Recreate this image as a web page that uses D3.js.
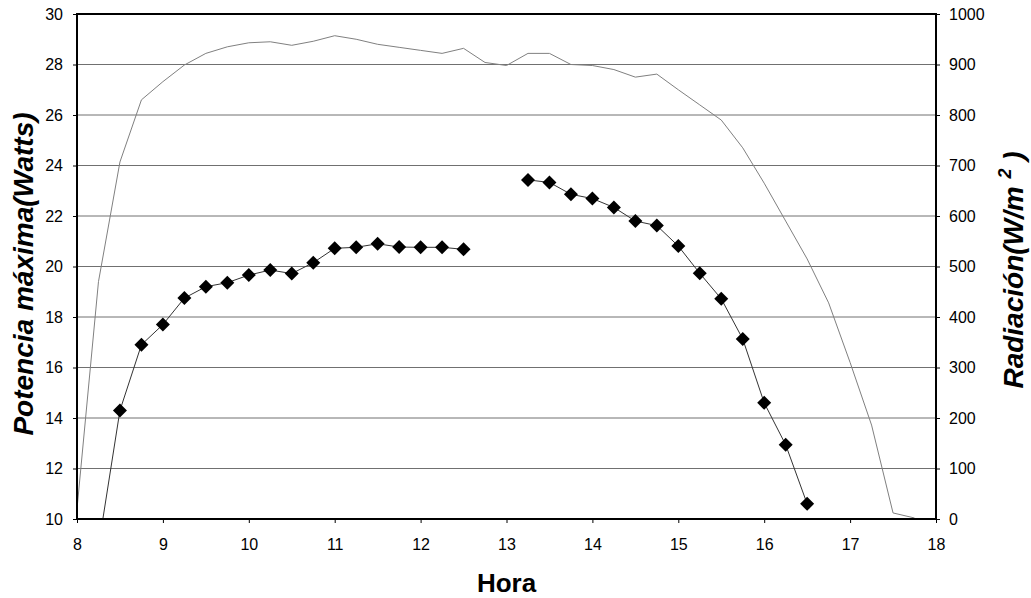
<!DOCTYPE html>
<html>
<head>
<meta charset="utf-8">
<script src="https://cdn.jsdelivr.net/npm/d3@7"></script>
<style>
  body { margin: 0; background: #fff; }
  text { font-family: "Liberation Sans", Arial, sans-serif; }
</style>
</head>
<body>
<div class="sandbox"></div>
<script>
// hours of the day (15 min steps)
var radHours = [8, 8.25, 8.5, 8.75, 9, 9.25, 9.5, 9.75, 10, 10.25, 10.5, 10.75, 11, 11.25, 11.5, 11.75,
  12, 12.25, 12.5, 12.75, 13, 13.25, 13.5, 13.75, 14, 14.25, 14.5, 14.75, 15, 15.25, 15.5, 15.75,
  16, 16.25, 16.5, 16.75, 17, 17.25, 17.5, 17.75];
// radiation W/m2 (right axis)
var radValues = [20, 470, 707, 830, 866, 899, 922, 935, 943, 945, 938, 946, 957, 950, 940, 934,
  928, 922, 932, 904, 898, 922, 922, 900, 898, 890, 875, 881, 850, 820, 790, 735,
  665, 590, 515, 428, 310, 186, 12, 2];

// max power, morning block and afternoon block (left axis)
var powHoursAM = [8.25, 8.5, 8.75, 9, 9.25, 9.5, 9.75, 10, 10.25, 10.5, 10.75, 11, 11.25, 11.5, 11.75, 12, 12.25, 12.5];
var powValuesAM = [8.9, 14.3, 16.9, 17.7, 18.75, 19.2, 19.36, 19.66, 19.86, 19.72, 20.15, 20.72, 20.76, 20.9, 20.77, 20.76, 20.76, 20.68];
var powHoursPM = [13.25, 13.5, 13.75, 14, 14.25, 14.5, 14.75, 15, 15.25, 15.5, 15.75, 16, 16.25, 16.5];
var powValuesPM = [23.43, 23.33, 22.86, 22.69, 22.34, 21.8, 21.62, 20.81, 19.73, 18.72, 17.13, 14.6, 12.94, 10.6];

var xTicks = [8, 9, 10, 11, 12, 13, 14, 15, 16, 17, 18];
var yLeftTicks = [10, 12, 14, 16, 18, 20, 22, 24, 26, 28, 30];
var yRightTicks = [0, 100, 200, 300, 400, 500, 600, 700, 800, 900, 1000];

var W = 1031, H = 598;
var m = {left: 77, right: W - 936, top: 14, bottom: H - 519};
var iw = W - m.left - m.right, ih = H - m.top - m.bottom;

var svg = d3.select(".sandbox").append("svg").attr("width", W).attr("height", H);

var x = d3.scaleLinear().domain([8, 18]).range([0, iw]);
var yL = d3.scaleLinear().domain([10, 30]).range([ih, 0]);
var yR = d3.scaleLinear().domain([0, 1000]).range([ih, 0]);

svg.append("defs").append("clipPath").attr("id", "clip")
  .append("rect").attr("width", iw).attr("height", ih);

var g = svg.append("g").attr("transform", "translate(" + m.left + "," + m.top + ")");

// gridlines
g.selectAll("line.grid")
  .data(yLeftTicks.slice(1, -1))
  .enter()
  .append("line")
  .attr("class", "grid")
  .attr("x1", 0).attr("x2", iw)
  .attr("y1", d => yL(d)).attr("y2", d => yL(d))
  .attr("stroke", "#707070")
  .attr("stroke-width", 1);

var plot = g.append("g").attr("clip-path", "url(#clip)");

// radiation line
var radLine = d3.line().x((d, i) => x(radHours[i])).y(d => yR(d));
plot.append("path")
  .datum(radValues)
  .attr("d", radLine)
  .attr("fill", "none")
  .attr("stroke", "#808080")
  .attr("stroke-width", 1);

// power lines + diamonds
var diamond = "M0,-7L7,0L0,7L-7,0Z";
[[powHoursAM, powValuesAM], [powHoursPM, powValuesPM]].forEach(function(s) {
  var hrs = s[0], vals = s[1];
  plot.append("path")
    .datum(vals)
    .attr("d", d3.line().x((d, i) => x(hrs[i])).y(d => yL(d)))
    .attr("fill", "none")
    .attr("stroke", "#333")
    .attr("stroke-width", 1);
  plot.selectAll(null)
    .data(vals)
    .enter()
    .append("path")
    .attr("d", diamond)
    .attr("transform", (d, i) => "translate(" + [x(hrs[i]), yL(d)] + ")")
    .attr("fill", "#000");
});

// axes
var fs = "16px";
var ax = g.append("g").attr("transform", "translate(0," + ih + ")")
  .call(d3.axisBottom(x).tickValues(xTicks).tickSize(4).tickPadding(16));
var al = g.append("g")
  .call(d3.axisLeft(yL).tickValues(yLeftTicks).tickSize(4).tickPadding(10));
var ar = g.append("g").attr("transform", "translate(" + iw + ",0)")
  .call(d3.axisRight(yR).tickValues(yRightTicks).tickFormat(d3.format("d")).tickSize(4).tickPadding(9));
[ax, al, ar].forEach(function(a) {
  a.select(".domain").remove();
  a.selectAll("text").attr("font-size", fs).attr("fill", "#000")
    .attr("font-family", "'Liberation Sans', Arial, sans-serif");
  a.selectAll("line").attr("stroke", "#000");
});

// frame
g.append("rect")
  .attr("width", iw).attr("height", ih)
  .attr("fill", "none")
  .attr("stroke", "#000")
  .attr("stroke-width", 2);

// titles
svg.append("text")
  .attr("x", m.left + iw / 2).attr("y", 592)
  .attr("text-anchor", "middle")
  .attr("font-size", "26px").attr("font-weight", "bold")
  .text("Hora");

svg.append("text")
  .attr("transform", "translate(33,274) rotate(-90)")
  .attr("text-anchor", "middle")
  .attr("font-size", "28px").attr("font-weight", "bold").attr("font-style", "italic")
  .text("Potencia máxima(Watts)");

var rt = svg.append("text")
  .attr("transform", "translate(1023,270) rotate(-90)")
  .attr("text-anchor", "middle")
  .attr("font-size", "28px").attr("font-weight", "bold").attr("font-style", "italic");
rt.append("tspan").text("Radiación(W/m ");
rt.append("tspan").attr("font-size", "18px").attr("dy", "-12").text("2");
rt.append("tspan").attr("dy", "12").text(" )");
</script>
</body>
</html>
